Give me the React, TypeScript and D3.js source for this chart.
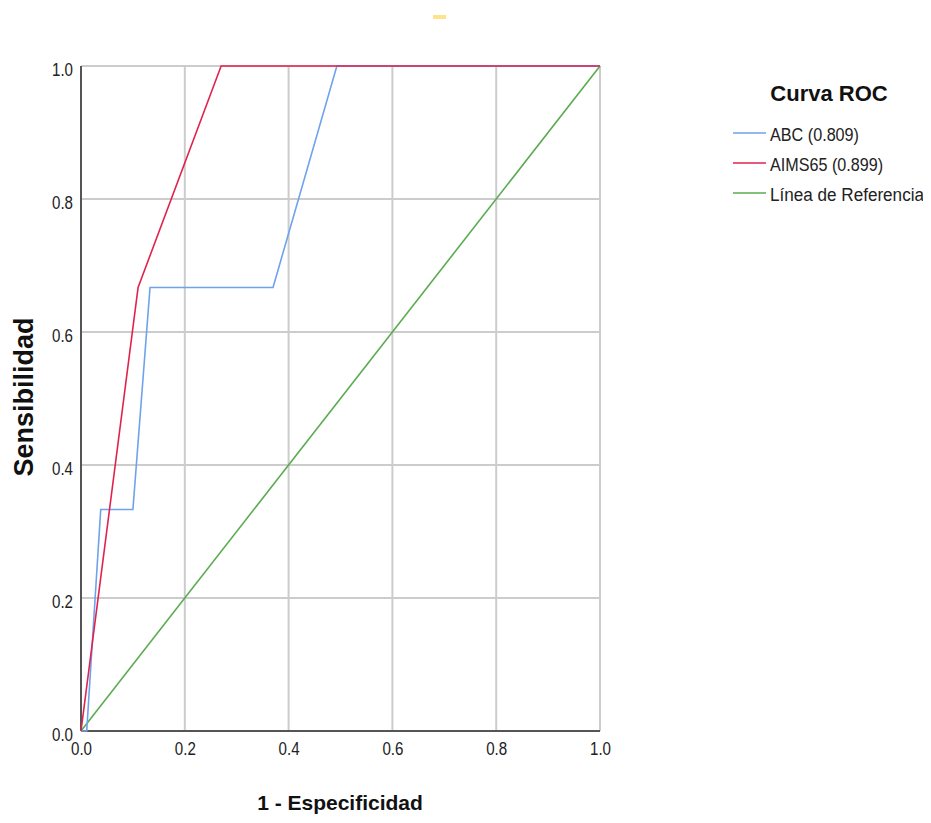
import { useEffect, useRef } from "react";
import * as d3 from "d3";

// Curva ROC: puntos (1 - especificidad, sensibilidad)
const abcFpr = [0, 0.011, 0.038, 0.1, 0.133, 0.37, 0.493, 1];
const abcTpr = [0, 0, 0.333, 0.333, 0.667, 0.667, 1, 1];
const aimsFpr = [0, 0.11, 0.27, 1];
const aimsTpr = [0, 0.667, 1, 1];
const refFpr = [0, 1];
const refTpr = [0, 1];

const seriesNames = ["ABC (0.809)", "AIMS65 (0.899)", "Línea de Referencia"];
const seriesColors = ["#6ea3ec", "#e0234e", "#5aab50"];
const ticks = [0, 0.2, 0.4, 0.6, 0.8, 1.0];

const W = 931;
const H = 823;

const App = () => {
    const svgRef = useRef<SVGSVGElement>(null);

    useEffect(() => {
        const svg = d3.select(svgRef.current);
        svg.selectAll("*").remove();

        const x = d3.scaleLinear().domain([0, 1]).range([81, 600]);
        const y = d3.scaleLinear().domain([0, 1]).range([731, 66]);
        const font = "'Liberation Sans', Arial, sans-serif";

        // mancha amarilla arriba
        svg.append("rect")
            .attr("x", 433).attr("y", 15).attr("width", 13).attr("height", 4)
            .attr("fill", "#ffe38a");

        // rejilla
        const grid = svg.append("g");
        grid.selectAll("line.v")
            .data(ticks.slice(1))
            .join("line")
            .attr("x1", d => x(d)).attr("x2", d => x(d))
            .attr("y1", y(0)).attr("y2", y(1))
            .attr("stroke", "#cccccc").attr("stroke-width", 2);
        grid.selectAll("line.h")
            .data(ticks.slice(1))
            .join("line")
            .attr("y1", d => y(d)).attr("y2", d => y(d))
            .attr("x1", x(0)).attr("x2", x(1))
            .attr("stroke", "#cccccc").attr("stroke-width", 2);

        // ejes
        const xAxis = d3.axisBottom(x).tickValues(ticks).tickFormat(d3.format(".1f")).tickSize(0).tickPadding(11);
        const yAxis = d3.axisLeft(y).tickValues(ticks).tickFormat(d3.format(".1f")).tickSize(0).tickPadding(8);

        const gx = svg.append("g").attr("transform", `translate(0, ${y(0)})`).call(xAxis);
        const gy = svg.append("g").attr("transform", `translate(${x(0)}, 0)`).call(yAxis);
        [gx, gy].forEach(g => {
            g.select(".domain").attr("stroke", "#555555").attr("stroke-width", 2);
            g.selectAll("text")
                .attr("font-family", font).attr("font-size", 18).attr("fill", "#222")
                .attr("textLength", 21).attr("lengthAdjust", "spacingAndGlyphs");
        });
        gy.selectAll("text").attr("dy", "0.5em");
        gx.select(".domain").attr("d", `M${x(0)},0H${x(1)}`);
        gy.select(".domain").attr("d", `M0,${y(0)}V${y(1)}`);

        // curvas
        const line = d3.line<[number, number]>().x(d => x(d[0])).y(d => y(d[1]));
        const series: [number, number][][] = [
            abcFpr.map((f, i) => [f, abcTpr[i]]),
            aimsFpr.map((f, i) => [f, aimsTpr[i]]),
            refFpr.map((f, i) => [f, refTpr[i]]),
        ];
        const drawOrder = [2, 0, 1];
        svg.append("g").selectAll("path")
            .data(drawOrder)
            .join("path")
            .attr("d", i => line(series[i]))
            .attr("fill", "none")
            .attr("stroke", i => seriesColors[i])
            .attr("stroke-width", 1.6);

        // títulos de ejes
        svg.append("text")
            .attr("x", 340).attr("y", 810)
            .attr("text-anchor", "middle")
            .attr("font-family", font)
            .attr("font-weight", "bold").attr("font-size", 21)
            .attr("fill", "#111")
            .text("1 - Especificidad");
        svg.append("text")
            .attr("transform", "translate(33, 397) rotate(-90)")
            .attr("text-anchor", "middle")
            .attr("font-family", font)
            .attr("font-weight", "bold").attr("font-size", 27)
            .attr("fill", "#111")
            .text("Sensibilidad");

        // leyenda
        const legend = svg.append("g");
        legend.append("text")
            .attr("x", 829).attr("y", 101)
            .attr("text-anchor", "middle")
            .attr("font-family", font)
            .attr("font-weight", "bold").attr("font-size", 22)
            .attr("fill", "#111")
            .text("Curva ROC");
        const items = legend.selectAll("g.item")
            .data(seriesNames)
            .join("g")
            .attr("transform", (_, i) => `translate(0, ${133 + i * 30})`);
        items.append("line")
            .attr("x1", 733).attr("x2", 766)
            .attr("stroke", (_, i) => seriesColors[i])
            .attr("stroke-width", 1.6);
        items.append("text")
            .attr("x", 770).attr("y", 8)
            .attr("font-family", font).attr("font-size", 18)
            .attr("fill", "#222")
            .attr("textLength", d => Math.round(d.length * 8.1))
            .attr("lengthAdjust", "spacingAndGlyphs")
            .text(d => d);
    }, []);

    return <svg ref={svgRef} width={W} height={H} style={{ display: "block", margin: -8 }} />;
};

export default App;
